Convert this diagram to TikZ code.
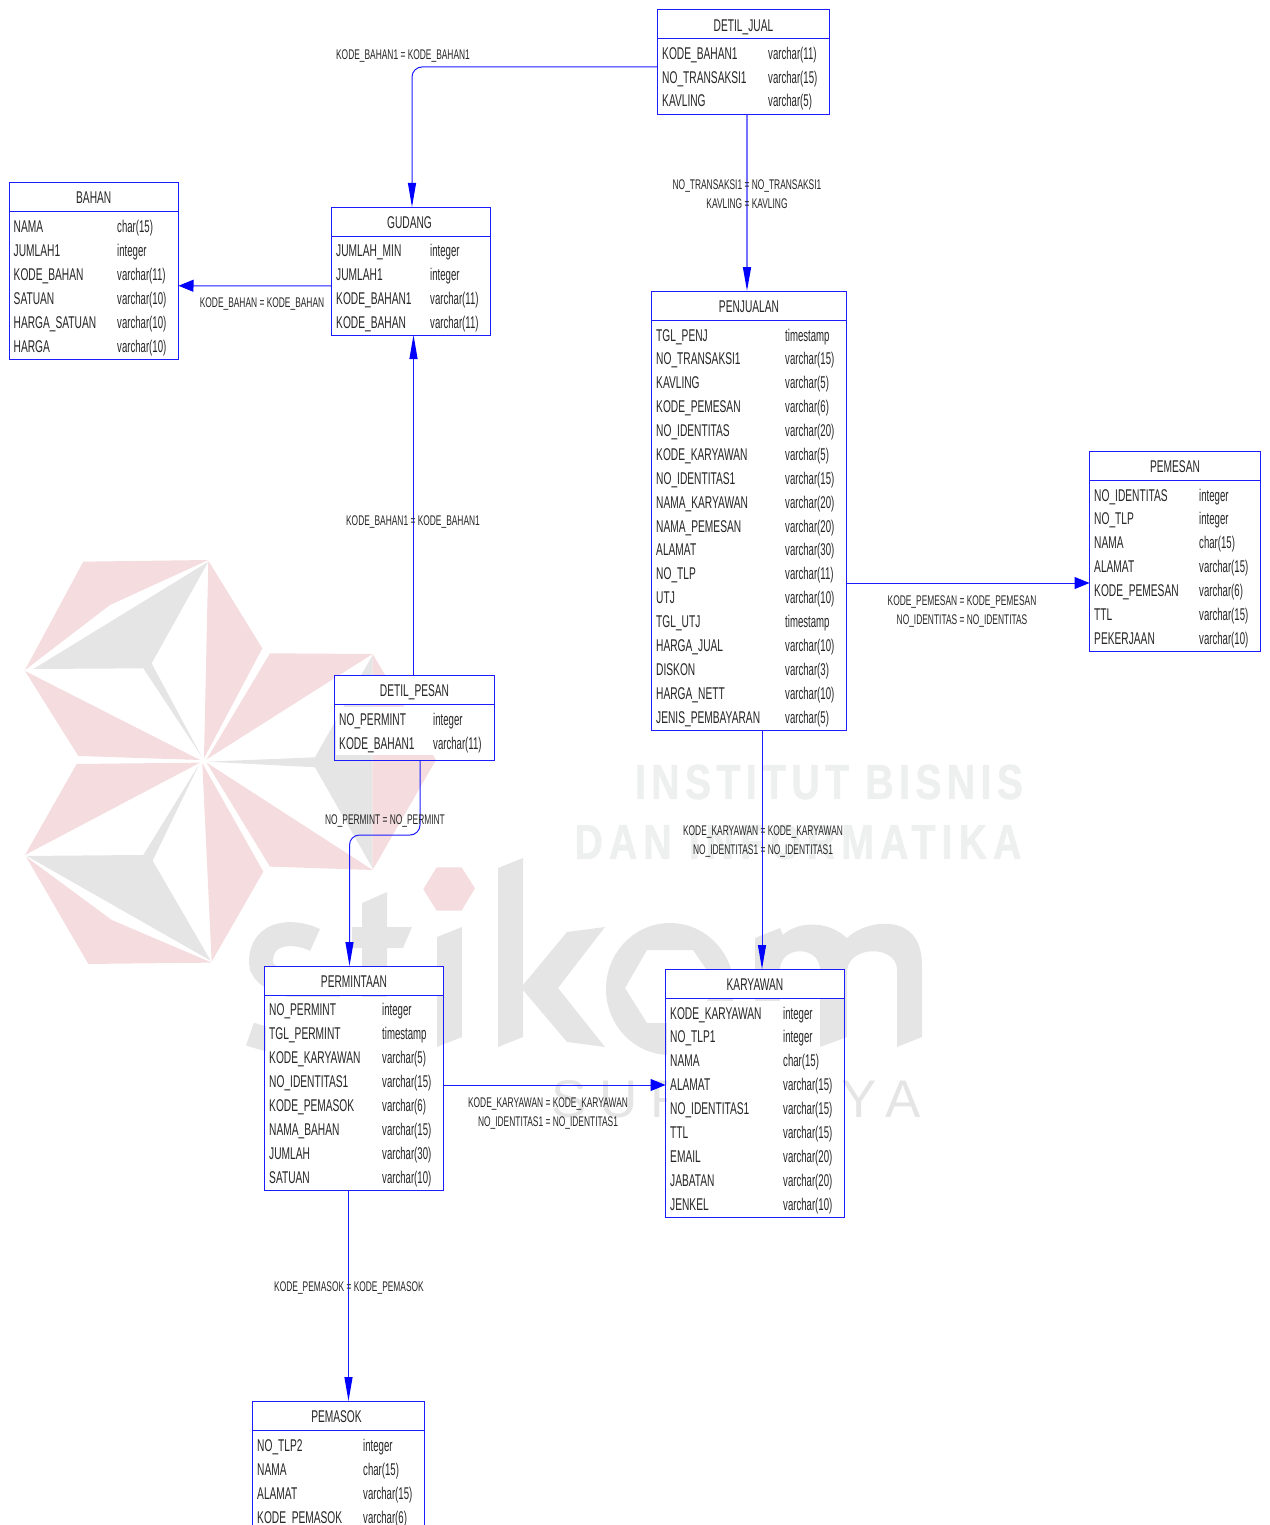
\documentclass[tikz,border=0pt]{standalone}
\usepackage{fontspec}
\usepackage{tikz}
\usepackage{xcolor}
\usetikzlibrary{arrows.meta}
\newfontfamily\erfont[FakeStretch=0.6]{Liberation Sans}
\newfontfamily\ertype[FakeStretch=0.565]{Liberation Sans}
\newfontfamily\wmbold[FakeStretch=0.8,LetterSpace=11,FakeBold=1.2]{Liberation Sans Bold}
\newfontfamily\wmboldwide[FakeStretch=0.8,LetterSpace=12.5,FakeBold=1.2]{Liberation Sans Bold}
\newfontfamily\wmthin[LetterSpace=24]{Liberation Sans}
\definecolor{wmpink}{HTML}{F4DCDF}
\definecolor{wmgrey}{HTML}{E5E5E5}
\definecolor{wmtext}{HTML}{EEEFEF}
\definecolor{erblue}{HTML}{1C1CFF}
\tikzset{
  entframe/.style={draw=erblue,line width=1pt,anchor=north west,inner sep=0pt,outer sep=0pt},
  enttitle/.style={draw=erblue,line width=1pt,fill=white,anchor=north west,inner sep=0pt,outer sep=0pt,
    minimum width=#1,minimum height=29pt,text height=14pt,text depth=0pt,text=black!85,
    font=\erfont\fontsize{17}{20}\selectfont},
  rowname/.style={anchor=west,fill=white,text width=#1,align=left,inner xsep=3pt,inner ysep=4.25pt,
    text height=14pt,text depth=2pt,text=black!85,font=\erfont\fontsize{17}{20}\selectfont},
  rowtype/.style={anchor=west,fill=white,inner xsep=1pt,inner ysep=4.25pt,
    text height=14pt,text depth=2pt,text=black!85,font=\ertype\fontsize{17}{20}\selectfont},
  rellabel/.style={align=center,inner sep=0pt,text=black!85,font=\erfont\fontsize{14}{19}\selectfont},
  fk/.style={draw=erblue,line width=1pt},
  vtip/.style={-{Triangle[length=24pt,width=8pt,color=blue]}},
  htip/.style={-{Triangle[length=15pt,width=12pt,color=blue]}}
}
\begin{document}
\begin{tikzpicture}[x=1pt,y=-1pt]
\clip[use as bounding box] (0,0) rectangle (1269,1525);
\begin{scope}[shift={(0,540)},x=0.3333pt,y=-0.3333pt]
\fill[wmpink] (75,390) -- (250,65) -- (625,60) -- (330,195) -- cycle;
\fill[wmgrey] (100,387) -- (625,65) -- (455,370) -- (605,650) -- (430,385) -- cycle;
\fill[wmpink] (625,62) -- (787,325) -- (612,655) -- cycle;
\fill[wmpink] (75,393) -- (235,648) -- (600,660) -- cycle;
\fill[wmpink] (75,945) -- (230,672) -- (600,668) -- cycle;
\fill[wmgrey] (80,948) -- (430,945) -- (598,672) -- (458,962) -- (632,1262) -- cycle;
\fill[wmpink] (78,950) -- (335,1140) -- (635,1268) -- (265,1272) -- cycle;
\fill[wmpink] (607,670) -- (790,995) -- (635,1265) -- cycle;
\fill[wmpink] (620,658) -- (810,340) -- (1118,342) -- cycle;
\fill[wmgrey] (1118,345) -- (945,652) -- (622,665) -- (945,682) -- (1118,985) -- cycle;
\fill[wmpink] (1118,342) -- (1308,660) -- (1118,990) -- cycle;
\fill[wmpink] (620,668) -- (1118,990) -- (810,980) -- cycle;
\fill[wmpink] (1270,1048) -- (1310,982) -- (1385,982) -- (1425,1045) -- (1385,1112) -- (1310,1112) -- cycle;
\end{scope}
\draw[wmgrey,line width=24pt] (315,940) .. controls (295,930) and (261,930) .. (261,962)
  .. controls (261,990) and (335,985) .. (335,1015) .. controls (335,1050) and (280,1045) .. (250,1034);
\fill[wmgrey] (362,903) -- (387,892) -- (387,927) -- (412,927) -- (403,948) -- (387,948) -- (387,1020) -- (362,1020) -- (362,948) -- (352,948) -- (352,927) -- (362,927) -- cycle;
\fill[wmgrey] (437,937) -- (462,927) -- (462,1037) -- (437,1047) -- cycle;
\fill[wmgrey] (498,868) -- (523,858) -- (523,1037) -- (498,1047) -- cycle;
\fill[wmgrey] (523,985) -- (567,932) -- (605,927) -- (558,988) -- (605,1047) -- (567,1042) -- (523,990) -- cycle;
\fill[wmgrey,even odd rule] (670,989) ellipse [x radius=64,y radius=66]
  (625,988) -- (647,950) -- (693,950) -- (717,985) -- (693,1023) -- (647,1023) -- cycle;
\fill[wmgrey] (755,1047) -- (755,938) -- (780,928) -- (783,935) .. controls (795,923) and (825,918) .. (847,938)
  .. controls (865,920) and (922,910) .. (922,965) -- (922,1037) -- (897,1047) -- (897,970)
  .. controls (897,945) and (850,945) .. (847,970) -- (847,1037) -- (820,1047) -- (820,970)
  .. controls (820,945) and (780,945) .. (780,970) -- (780,1037) -- cycle;
\node[text=wmtext,inner sep=0pt] (wminstitut) at (829,782) {\wmbold\fontsize{49}{50}\selectfont INSTITUT BISNIS};
\node[text=wmtext,inner sep=0pt] (wmdan) at (798,842) {\wmboldwide\fontsize{49}{50}\selectfont DAN INFORMATIKA};
\node[text=wmgrey,inner sep=0pt] (wmsurabaya) at (736,1099) {\wmthin\fontsize{53}{54}\selectfont SURABAYA};

\node[entframe,minimum width=172pt,minimum height=105pt] (detiljual) at (657.5,10) {};
\node[enttitle=172pt] (detiljual-t) at (detiljual.north west) {DETIL\_JUAL};
\foreach \fname/\ftype [count=\i from 0] in {KODE\_BAHAN1/varchar(11),NO\_TRANSAKSI1/varchar(15),KAVLING/varchar(5)} {
  \node[rowname=103pt] (detiljual-n\i) at (659,{54+23.5*\i}) {\fname};
  \node[rowtype] (detiljual-c\i) at (767,{54+23.5*\i}) {\ftype};
}

\node[entframe,minimum width=169.5pt,minimum height=176.5pt] (bahan) at (9,182.5) {};
\node[enttitle=169.5pt] (bahan-t) at (bahan.north west) {BAHAN};
\foreach \fname/\ftype [count=\i from 0] in {NAMA/char(15),JUMLAH1/integer,KODE\_BAHAN/varchar(11),SATUAN/varchar(10),HARGA\_SATUAN/varchar(10),HARGA/varchar(10)} {
  \node[rowname=100.5pt] (bahan-n\i) at (10.5,{226+24*\i}) {\fname};
  \node[rowtype] (bahan-c\i) at (116,{226+24*\i}) {\ftype};
}

\node[entframe,minimum width=159pt,minimum height=128pt] (gudang) at (331.5,207) {};
\node[enttitle=159pt] (gudang-t) at (gudang.north west) {\hspace*{-3pt}GUDANG};
\foreach \fname/\ftype [count=\i from 0] in {JUMLAH\_MIN/integer,JUMLAH1/integer,KODE\_BAHAN1/varchar(11),KODE\_BAHAN/varchar(11)} {
  \node[rowname=91pt] (gudang-n\i) at (333,{250+24*\i}) {\fname};
  \node[rowtype] (gudang-c\i) at (429,{250+24*\i}) {\ftype};
}

\node[entframe,minimum width=195pt,minimum height=439pt] (penjualan) at (651.5,291) {};
\node[enttitle=195pt] (penjualan-t) at (penjualan.north west) {PENJUALAN};
\foreach \fname/\ftype [count=\i from 0] in {TGL\_PENJ/timestamp,NO\_TRANSAKSI1/varchar(15),KAVLING/varchar(5),KODE\_PEMESAN/varchar(6),NO\_IDENTITAS/varchar(20),KODE\_KARYAWAN/varchar(5),NO\_IDENTITAS1/varchar(15),NAMA\_KARYAWAN/varchar(20),NAMA\_PEMESAN/varchar(20),ALAMAT/varchar(30),NO\_TLP/varchar(11),UTJ/varchar(10),TGL\_UTJ/timestamp,HARGA\_JUAL/varchar(10),DISKON/varchar(3),HARGA\_NETT/varchar(10),JENIS\_PEMBAYARAN/varchar(5)} {
  \node[rowname=126pt] (penjualan-n\i) at (653,{335+23.875*\i}) {\fname};
  \node[rowtype] (penjualan-c\i) at (784,{335+23.875*\i}) {\ftype};
}

\node[entframe,minimum width=171pt,minimum height=200pt] (pemesan) at (1089.5,451) {};
\node[enttitle=171pt] (pemesan-t) at (pemesan.north west) {PEMESAN};
\foreach \fname/\ftype [count=\i from 0] in {NO\_IDENTITAS/integer,NO\_TLP/integer,NAMA/char(15),ALAMAT/varchar(15),KODE\_PEMESAN/varchar(6),TTL/varchar(15),PEKERJAAN/varchar(10)} {
  \node[rowname=102pt] (pemesan-n\i) at (1091,{495+23.85*\i}) {\fname};
  \node[rowtype] (pemesan-c\i) at (1198,{495+23.85*\i}) {\ftype};
}

\node[entframe,minimum width=160pt,minimum height=85pt] (detilpesan) at (334.5,675) {};
\node[enttitle=160pt] (detilpesan-t) at (detilpesan.north west) {DETIL\_PESAN};
\foreach \fname/\ftype [count=\i from 0] in {NO\_PERMINT/integer,KODE\_BAHAN1/varchar(11)} {
  \node[rowname=91pt] (detilpesan-n\i) at (336,{719+24*\i}) {\fname};
  \node[rowtype] (detilpesan-c\i) at (432,{719+24*\i}) {\ftype};
}

\node[entframe,minimum width=179pt,minimum height=224pt] (permintaan) at (264.5,966) {};
\node[enttitle=179pt] (permintaan-t) at (permintaan.north west) {PERMINTAAN};
\foreach \fname/\ftype [count=\i from 0] in {NO\_PERMINT/integer,TGL\_PERMINT/timestamp,KODE\_KARYAWAN/varchar(5),NO\_IDENTITAS1/varchar(15),KODE\_PEMASOK/varchar(6),NAMA\_BAHAN/varchar(15),JUMLAH/varchar(30),SATUAN/varchar(10)} {
  \node[rowname=110pt] (permintaan-n\i) at (266,{1009+24*\i}) {\fname};
  \node[rowtype] (permintaan-c\i) at (381,{1009+24*\i}) {\ftype};
}

\node[entframe,minimum width=179pt,minimum height=248pt] (karyawan) at (665.5,969) {};
\node[enttitle=179pt] (karyawan-t) at (karyawan.north west) {KARYAWAN};
\foreach \fname/\ftype [count=\i from 0] in {KODE\_KARYAWAN/integer,NO\_TLP1/integer,NAMA/char(15),ALAMAT/varchar(15),NO\_IDENTITAS1/varchar(15),TTL/varchar(15),EMAIL/varchar(20),JABATAN/varchar(20),JENKEL/varchar(10)} {
  \node[rowname=110pt] (karyawan-n\i) at (667,{1013+23.9*\i}) {\fname};
  \node[rowtype] (karyawan-c\i) at (782,{1013+23.9*\i}) {\ftype};
}

\node[entframe,minimum width=172pt,minimum height=132pt] (pemasok) at (252.5,1401) {};
\node[enttitle=172pt] (pemasok-t) at (pemasok.north west) {\hspace*{-4pt}PEMASOK};
\foreach \fname/\ftype [count=\i from 0] in {NO\_TLP2/integer,NAMA/char(15),ALAMAT/varchar(15),KODE\_PEMASOK/varchar(6)} {
  \node[rowname=103pt] (pemasok-n\i) at (254,{1445+24*\i}) {\fname};
  \node[rowtype] (pemasok-c\i) at (362,{1445+24*\i}) {\ftype};
}

\draw[fk,vtip,rounded corners=10pt] ([yshift=-4.5pt]detiljual.west) -| ([xshift=1pt]gudang.north);
\draw[fk,vtip,draw=blue!55,line width=1.6pt] ([xshift=3.5pt]detiljual.south) -- ([xshift=-2pt]penjualan.north);
\draw[fk,htip] ([yshift=-15pt]gudang.west) -- ([yshift=-15pt]bahan.east);
\draw[fk,vtip] ([xshift=-1pt]detilpesan.north) -- ([xshift=2.5pt]gudang.south);
\draw[fk,vtip,rounded corners=10pt] ([xshift=5.5pt]detilpesan.south) -- ++(0,75) -| ([xshift=-4.5pt]permintaan.north);
\draw[fk,htip] ([yshift=-72.5pt]penjualan.east) -- ([yshift=-32pt]pemesan.west);
\draw[fk,vtip] ([xshift=13pt]penjualan.south) -- ([xshift=7pt]karyawan.north);
\draw[fk,htip] ([yshift=-7pt]permintaan.east) -- ([yshift=8pt]karyawan.west);
\draw[fk,vtip] ([xshift=-5.5pt]permintaan.south) -- ([xshift=10pt]pemasok.north);

\node[rellabel] (lbl-bahan1) at (403,56.5) {KODE\_BAHAN1 = KODE\_BAHAN1};
\node[rellabel] (lbl-transaksi) at (747,194) {NO\_TRANSAKSI1 = NO\_TRANSAKSI1\\KAVLING = KAVLING};
\node[rellabel] (lbl-bahan) at (262,304.5) {KODE\_BAHAN = KODE\_BAHAN};
\node[rellabel] (lbl-pesanbahan) at (413,521.5) {KODE\_BAHAN1 = KODE\_BAHAN1};
\node[rellabel] (lbl-pemesan) at (962,611) {KODE\_PEMESAN = KODE\_PEMESAN\\NO\_IDENTITAS = NO\_IDENTITAS};
\node[rellabel] (lbl-permint) at (385,820.5) {NO\_PERMINT = NO\_PERMINT};
\node[rellabel] (lbl-karyawan) at (763,841) {KODE\_KARYAWAN = KODE\_KARYAWAN\\NO\_IDENTITAS1 = NO\_IDENTITAS1};
\node[rellabel] (lbl-permkary) at (548,1113) {KODE\_KARYAWAN = KODE\_KARYAWAN\\NO\_IDENTITAS1 = NO\_IDENTITAS1};
\node[rellabel] (lbl-pemasok) at (349,1287.5) {KODE\_PEMASOK = KODE\_PEMASOK};
\end{tikzpicture}
\end{document}
